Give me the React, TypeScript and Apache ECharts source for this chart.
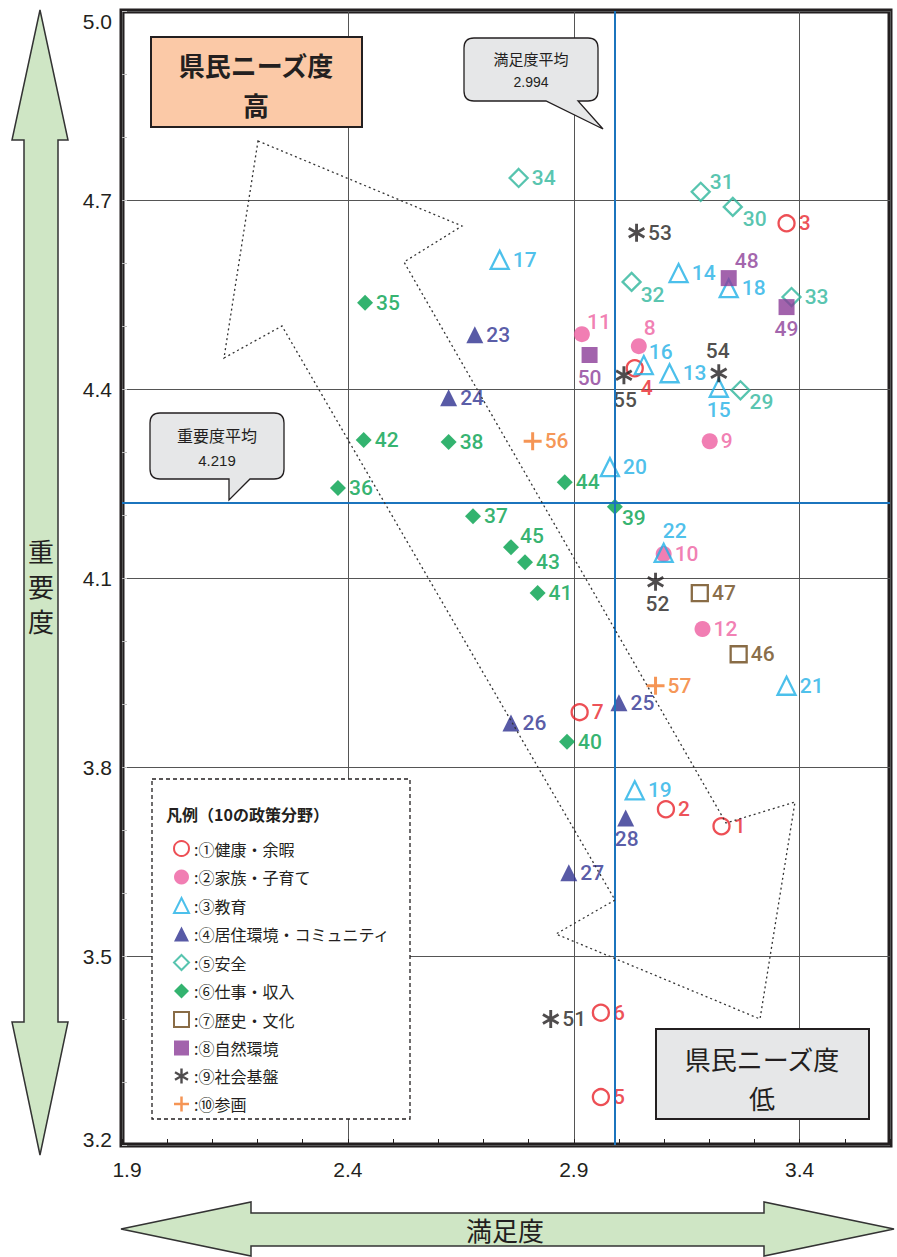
import React, { useEffect, useRef } from 'react';
import * as echarts from 'echarts';

// ---------- data ----------
const GROUP_NAMES = [
  '①健康・余暇',
  '②家族・子育て',
  '③教育',
  '④居住環境・コミュニティ',
  '⑤安全',
  '⑥仕事・収入',
  '⑦歴史・文化',
  '⑧自然環境',
  '⑨社会基盤',
  '⑩参画',
];

const GROUP_IDS = [
  [1, 2, 3, 4, 5, 6, 7],
  [8, 9, 10, 11, 12],
  [13, 14, 15, 16, 17, 18, 19, 20, 21, 22],
  [23, 24, 25, 26, 27, 28],
  [29, 30, 31, 32, 33, 34],
  [35, 36, 37, 38, 39, 40, 41, 42, 43, 44, 45],
  [46, 47],
  [48, 49, 50],
  [51, 52, 53, 54, 55],
  [56, 57],
];

// 満足度 (x)
const SATISFACTION = [
  [3.227, 3.104, 3.371, 3.035, 2.96, 2.96, 2.913],
  [3.044, 3.201, 3.099, 2.918, 3.185],
  [3.112, 3.132, 3.221, 3.055, 2.736, 3.243, 3.035, 2.98, 3.371, 3.099],
  [2.681, 2.623, 3.0, 2.761, 2.889, 3.015],
  [3.269, 3.252, 3.181, 3.028, 3.382, 2.778],
  [2.438, 2.378, 2.677, 2.623, 2.991, 2.885, 2.82, 2.435, 2.792, 2.88, 2.761],
  [3.265, 3.179],
  [3.243, 3.371, 2.935],
  [2.849, 3.081, 3.039, 3.221, 3.011],
  [2.809, 3.081],
];

// 重要度 (y)
const IMPORTANCE = [
  [3.706, 3.733, 4.663, 4.433, 3.276, 3.41, 3.887],
  [4.468, 4.317, 4.138, 4.487, 4.019],
  [4.425, 4.584, 4.402, 4.438, 4.605, 4.56, 3.763, 4.276, 3.929, 4.14],
  [4.486, 4.386, 3.902, 3.87, 3.632, 3.719],
  [4.398, 4.689, 4.713, 4.57, 4.546, 4.735],
  [4.537, 4.243, 4.198, 4.316, 4.213, 3.84, 4.076, 4.319, 4.125, 4.252, 4.149],
  [3.979, 4.076],
  [4.576, 4.53, 4.454],
  [3.4, 4.094, 4.648, 4.425, 4.422],
  [4.317, 3.929],
];

const SAT_AVG = 2.994;
const IMP_AVG = 4.219;

const X_MIN = 1.9;
const X_MAX = 3.6;
const X_STEP = 0.5;
const Y_MIN = 3.2;
const Y_MAX = 5.0;
const Y_STEP = 0.3;

// ---------- styles ----------
const ASTERISK =
  'path://M-1.6,-10L-1.6,10L1.6,10L1.6,-10Z M-9.46,-3.614L7.86,6.386L9.46,3.614L-7.86,-6.386Z M-7.86,6.386L9.46,-3.614L7.86,-6.386L-9.46,3.614Z';
const PLUS = 'path://M-1.5,-9L-1.5,9L1.5,9L1.5,-9Z M-9,-1.5L-9,1.5L9,1.5L9,-1.5Z';

const MARKERS = [
  { symbol: 'circle', size: 16, color: '#e8232b', hollow: true },
  { symbol: 'circle', size: 16, color: '#ee5ea0', hollow: false },
  { symbol: 'triangle', size: 18, color: '#1fb0e6', hollow: true },
  { symbol: 'triangle', size: 17, color: '#2e3190', hollow: false },
  { symbol: 'diamond', size: 18, color: '#2db59b', hollow: true },
  { symbol: 'diamond', size: 16, color: '#00a04b', hollow: false },
  { symbol: 'rect', size: 16, color: '#6b4718', hollow: true },
  { symbol: 'rect', size: 16, color: '#8b3c97', hollow: false },
  { symbol: ASTERISK, size: 18, color: '#231f20', hollow: false },
  { symbol: PLUS, size: 18, color: '#f37a2a', hollow: false },
];

// label placement for crowded points: offset of label centre from marker centre
const LABEL_OFFSETS: Record<number, [number, number]> = {
  4: [12, 20],
  8: [11, -18],
  11: [17, -12],
  15: [0, 22],
  16: [17, -13],
  22: [11, -22],
  28: [1, 21],
  29: [21, 12],
  30: [22, 12],
  31: [21, -10],
  32: [21, 13],
  39: [19, 11],
  45: [21, -11],
  48: [18, -17],
  49: [0, 22],
  50: [0, 23],
  52: [2, 22],
  54: [-1, -22],
  55: [1, 25],
};

const LATIN = "'Liberation Sans', Arial, 'Noto Sans CJK JP', sans-serif";
const LABEL_FONT = "Roboto, 'Liberation Sans', Arial, sans-serif";
const CJK = "'Noto Sans CJK JP', sans-serif";
const INK = '#231f20';
const BLUE = '#1b74bd';

echarts.graphic.registerShape(
  'calloutSat',
  echarts.graphic.extendPath(
    'M474,38 L588,38 Q598,38 598,48 L598,91 Q598,101 588,101 L578,101 L603,129 L546,101 L474,101 Q464,101 464,91 L464,48 Q464,38 474,38 Z',
    {}
  )
);
echarts.graphic.registerShape(
  'calloutImp',
  echarts.graphic.extendPath(
    'M160,413 L274,413 Q284,413 284,423 L284,469 Q284,479 274,479 L250,479 L229,500 L229,479 L160,479 Q150,479 150,469 L150,423 Q150,413 160,413 Z',
    {}
  )
);

function centredText(x: number, y: number, text: string, font: string, z = 61) {
  return {
    type: 'text',
    z,
    x,
    y,
    style: { text, font, fill: INK, align: 'center', verticalAlign: 'middle' },
  };
}

const AXIS_TEXT = { fontSize: 21, color: INK, fontFamily: LATIN };

export default function App() {
  const ref = useRef<HTMLDivElement>(null);

  useEffect(() => {
    if (!ref.current) return;
    const chart = echarts.init(ref.current, null, { renderer: 'svg' });

    const series: any[] = GROUP_NAMES.map((name, g) => {
      const m = MARKERS[g];
      return {
        name,
        type: 'scatter',
        symbol: m.symbol,
        symbolSize: m.size,
        symbolKeepAspect: true,
        itemStyle: m.hollow
          ? { color: 'rgba(255,255,255,0)', borderColor: m.color, borderWidth: 2.3 }
          : { color: m.color },
        label: {
          show: true,
          position: 'right',
          distance: 3,
          formatter: '{b}',
          color: m.color,
          fontSize: 21,
          fontWeight: 500,
          fontFamily: LABEL_FONT,
          textBorderWidth: 0,
        },
        emphasis: { disabled: true },
        z: 3,
        data: GROUP_IDS[g].map((id, i) => {
          const item: any = { name: String(id), value: [SATISFACTION[g][i], IMPORTANCE[g][i]] };
          const off = LABEL_OFFSETS[id];
          if (off) {
            item.label = { position: 'inside', offset: off, color: m.color, textBorderWidth: 0 };
          }
          return item;
        }),
      };
    });

    series.push({
      name: 'avg',
      type: 'scatter',
      data: [],
      silent: true,
      z: 2,
      markLine: {
        silent: true,
        symbol: 'none',
        label: { show: false },
        lineStyle: { color: BLUE, width: 2, type: 'solid' },
        emphasis: { disabled: true },
        data: [{ xAxis: SAT_AVG }, { yAxis: IMP_AVG }],
      },
    });

    const dottedArrow = [
      [258, 141], [462, 226], [404, 262], [726, 823], [795, 802],
      [760, 1019], [556, 934], [615, 900], [282, 326], [224, 358],
    ];

    const option: any = {
      animation: false,
      grid: {
        left: 122,
        right: 7,
        top: 11,
        bottom: 112,
        show: true,
        borderColor: INK,
        borderWidth: 5,
        backgroundColor: 'rgba(0,0,0,0)',
        containLabel: false,
      },
      xAxis: [
        {
          type: 'value',
          position: 'bottom',
          min: X_MIN,
          max: X_MAX,
          interval: X_STEP,
          axisLine: { show: false },
          axisTick: { show: false },
          axisLabel: {
            showMaxLabel: false,
            margin: 14,
            ...AXIS_TEXT,
            formatter: (v: number) =>
              Math.abs(v - X_MIN) < 1e-9 ? '{first|' + v.toFixed(1) + '}' : v.toFixed(1),
            rich: { first: { ...AXIS_TEXT, padding: [0, 0, 0, 10] } },
          },
          splitLine: { show: true, lineStyle: { color: '#555', width: 1 } },
        },
        {
          type: 'value',
          position: 'bottom',
          min: X_MIN,
          max: X_MAX,
          interval: 0.1,
          axisLine: { show: false },
          axisTick: { show: true, inside: true, length: 6, lineStyle: { color: INK, width: 1 } },
          axisLabel: { show: false },
          splitLine: { show: false },
        },
      ],
      yAxis: {
        type: 'value',
        min: Y_MIN,
        max: Y_MAX,
        interval: Y_STEP,
        axisLine: { show: false },
        axisTick: { show: true, inside: true, length: 5, lineStyle: { color: '#bbb' } },
        minorTick: { show: true, splitNumber: 3, length: 5, lineStyle: { color: '#bbb' } },
        axisLabel: {
          margin: 10,
          ...AXIS_TEXT,
          formatter: (v: number) => {
            if (Math.abs(v - Y_MAX) < 1e-9) return '{top|' + v.toFixed(1) + '}';
            if (Math.abs(v - Y_MIN) < 1e-9) return '{bot|' + v.toFixed(1) + '}';
            return v.toFixed(1);
          },
          rich: {
            top: { ...AXIS_TEXT, padding: [20, 0, 0, 0] },
            bot: { ...AXIS_TEXT, padding: [0, 0, 12, 0] },
          },
        },
        splitLine: { show: true, lineStyle: { color: '#555', width: 1 } },
      },
      legend: {
        orient: 'vertical',
        left: 168,
        top: 835,
        itemWidth: 15,
        itemHeight: 15,
        itemGap: 12,
        selectedMode: false,
        data: GROUP_NAMES,
        formatter: (n: string) => ':' + n,
        textStyle: { fontSize: 16, color: INK, fontFamily: CJK, lineHeight: 15 },
        z: 120,
      },
      graphic: [
        // vertical 重要度 arrow
        {
          type: 'polygon',
          z: 50,
          shape: {
            points: [
              [40, 10], [68, 140], [58, 140], [58, 1022], [68, 1022], [40, 1155],
              [12, 1022], [24, 1022], [24, 140], [12, 140],
            ],
          },
          style: { fill: '#cfe6c5', stroke: '#333', lineWidth: 1.5 },
        },
        centredText(41, 550, '重', `26px ${CJK}`, 51),
        centredText(41, 585, '要', `26px ${CJK}`, 51),
        centredText(41, 620, '度', `26px ${CJK}`, 51),
        // horizontal 満足度 arrow
        {
          type: 'polygon',
          z: 50,
          shape: {
            points: [
              [121, 1229], [251, 1202], [251, 1213], [764, 1213], [764, 1202], [894, 1229],
              [764, 1256], [764, 1246], [251, 1246], [251, 1256],
            ],
          },
          style: { fill: '#cfe6c5', stroke: '#333', lineWidth: 1.5 },
        },
        centredText(505, 1229, '満足度', `26px ${CJK}`, 51),
        // dotted big arrow
        {
          type: 'polygon',
          z: 40,
          silent: true,
          shape: { points: dottedArrow },
          style: { fill: 'none', stroke: '#333', lineWidth: 1.3, lineDash: [2, 3] },
        },
        // high box
        {
          type: 'rect',
          z: 60,
          shape: { x: 151, y: 37, width: 211, height: 90 },
          style: { fill: '#fbc9a7', stroke: INK, lineWidth: 2 },
        },
        centredText(256, 64, '県民ニーズ度', `bold 26px ${CJK}`),
        centredText(256, 104, '高', `bold 26px ${CJK}`),
        // low box
        {
          type: 'rect',
          z: 60,
          shape: { x: 656, y: 1029, width: 213, height: 90 },
          style: { fill: '#e6e7e8', stroke: INK, lineWidth: 2 },
        },
        centredText(762, 1058, '県民ニーズ度', `26px ${CJK}`),
        centredText(762, 1097, '低', `26px ${CJK}`),
        // callouts
        {
          type: 'calloutSat',
          z: 60,
          x: 0,
          y: 0,
          style: { fill: '#e6e7e8', stroke: INK, lineWidth: 1.3 },
        },
        centredText(531, 58, '満足度平均', `15px ${CJK}`),
        centredText(531, 82, SAT_AVG.toFixed(3), `14px ${LATIN}`),
        {
          type: 'calloutImp',
          z: 60,
          x: 0,
          y: 0,
          style: { fill: '#e6e7e8', stroke: INK, lineWidth: 1.3 },
        },
        centredText(217, 435, '重要度平均', `16px ${CJK}`),
        centredText(217, 460, IMP_AVG.toFixed(3), `15px ${LATIN}`),
        // legend frame
        {
          type: 'rect',
          z: 100,
          shape: { x: 152, y: 779, width: 258, height: 340 },
          style: { fill: '#fff', stroke: INK, lineWidth: 1.3, lineDash: [4, 3] },
        },
        {
          type: 'text',
          z: 101,
          x: 166,
          y: 814,
          style: {
            text: '凡例（10の政策分野）',
            font: `bold 16px ${CJK}`,
            fill: INK,
            align: 'left',
            verticalAlign: 'middle',
          },
        },
      ],
      series,
    };

    chart.setOption(option);
    return () => chart.dispose();
  }, []);

  return (
    <div
      ref={ref}
      style={{ position: 'absolute', left: 0, top: 0, width: 897, height: 1257, background: '#fff' }}
    />
  );
}
